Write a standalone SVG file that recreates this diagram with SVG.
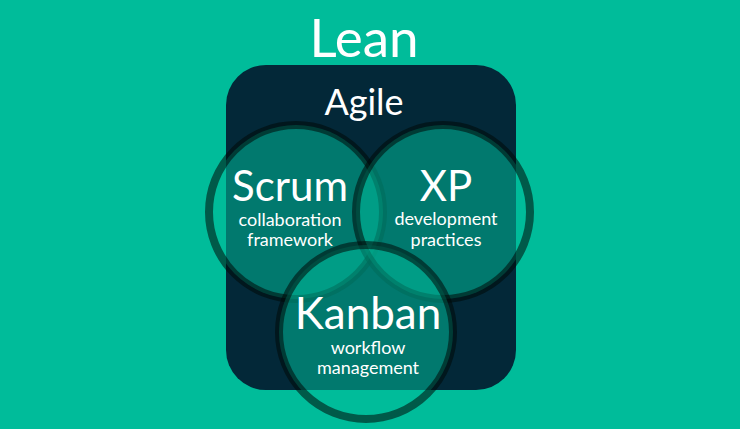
<svg xmlns="http://www.w3.org/2000/svg" width="740" height="429" viewBox="0 0 740 429">
  <style>
    .t { font-family: Lato, "Liberation Sans", sans-serif; fill: #ffffff; text-anchor: middle; }
    .ring { fill: #00bc9a; fill-opacity: 0.55; stroke: #000a08; stroke-opacity: 0.55; stroke-width: 8; }
  </style>
  <rect width="740" height="429" fill="#00bc9a"/>
  <g id="lean">
    <text class="t" x="364" y="57" font-size="53">Lean</text>
  </g>
  <g id="agile">
    <rect x="226" y="65" width="290" height="325" rx="40" ry="40" fill="#032838"/>
    <text class="t" x="364" y="115" font-size="36">Agile</text>
  </g>
  <g id="scrum">
    <circle class="ring" cx="296" cy="212" r="87"/>
  </g>
  <g id="xp">
    <circle class="ring" cx="443" cy="212" r="87"/>
  </g>
  <g id="kanban">
    <circle class="ring" cx="366" cy="332" r="87"/>
  </g>
  <g id="labels">
    <text class="t" x="290" y="201" font-size="42">Scrum</text>
    <text class="t" x="290" y="226" font-size="18">collaboration</text>
    <text class="t" x="290" y="246" font-size="18">framework</text>
    <text class="t" x="446" y="201" font-size="42">XP</text>
    <text class="t" x="446" y="225" font-size="18">development</text>
    <text class="t" x="446" y="246" font-size="18">practices</text>
    <text class="t" x="368" y="329" font-size="44">Kanban</text>
    <text class="t" x="368" y="354" font-size="18">workflow</text>
    <text class="t" x="368" y="374" font-size="18">management</text>
  </g>
</svg>
